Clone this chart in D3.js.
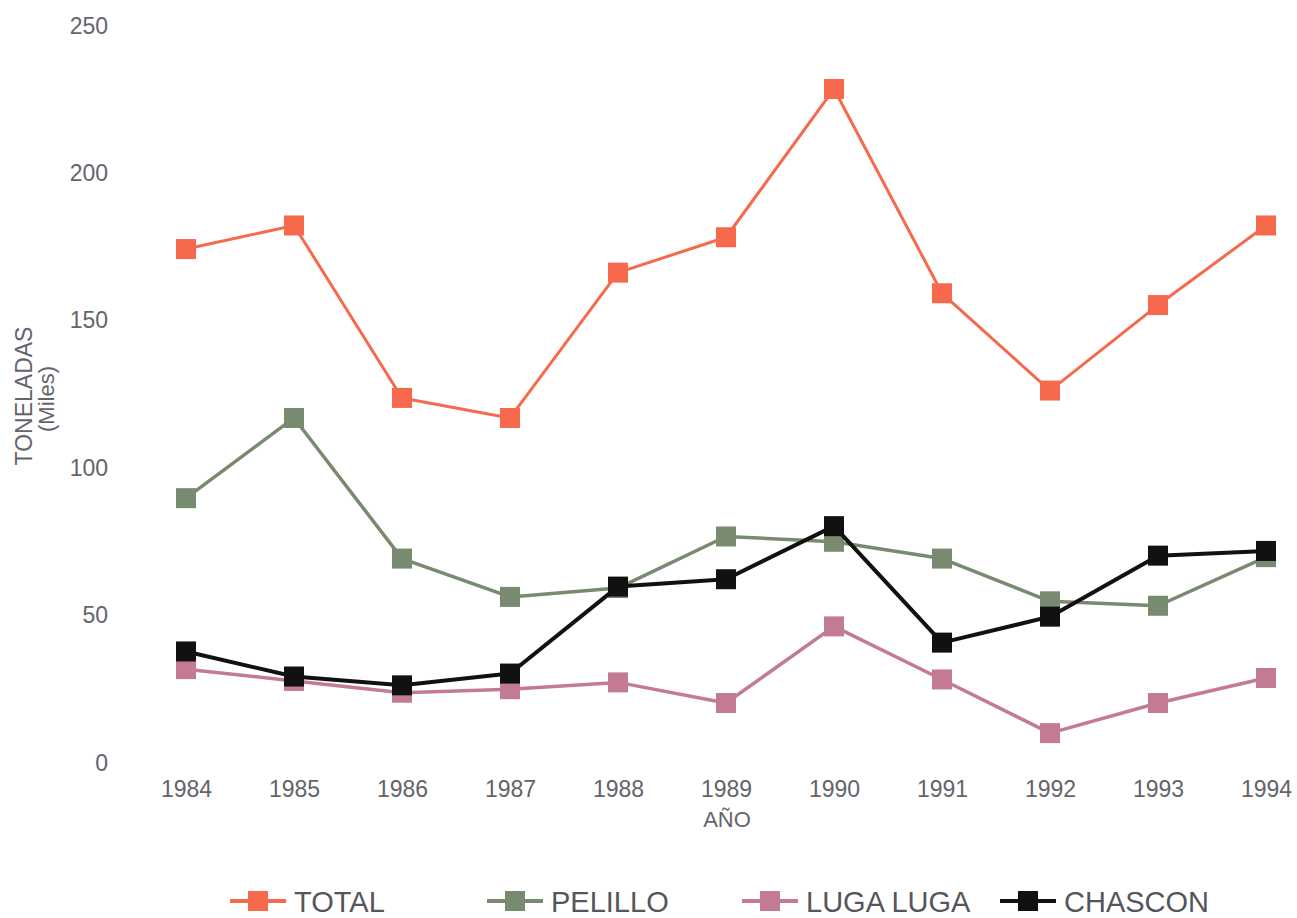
<!DOCTYPE html>
<html>
<head>
<meta charset="utf-8">
<script src="https://cdn.jsdelivr.net/npm/d3@7/dist/d3.min.js"></script>
<style>
  html, body { margin: 0; padding: 0; background: #fff; }
  svg { display: block; font-family: "Liberation Sans", Arial, sans-serif; }
</style>
</head>
<body>
<svg id="chart" width="1297" height="918"></svg>
<script>
const years = ["1984","1985","1986","1987","1988","1989","1990","1991","1992","1993","1994"];
const total    = [174, 182, 123.5, 116.7, 166, 178, 228.3, 159, 126, 155, 182];
const pelillo  = [89.5, 116.7, 69, 56, 59, 76.5, 74.7, 69, 54.5, 53, 69.5];
const lugaLuga = [31.5, 27.5, 23.5, 24.7, 27, 20, 46, 28, 9.8, 20, 28.5];
const chascon  = [37.5, 29, 26, 30, 59.5, 62, 80, 40.5, 49.3, 70, 71.6];
const yTicks = [0, 50, 100, 150, 200, 250];

const seriesNames = ["TOTAL", "PELILLO", "LUGA LUGA", "CHASCON"];
const seriesValues = [total, pelillo, lugaLuga, chascon];
const seriesColors = ["#f7694c", "#788a6f", "#c27b93", "#111111"];
const seriesWidths = [3, 3.5, 3.5, 4];

const svg = d3.select("#chart");

const x = d3.scalePoint().domain(years).range([186, 1266]);
const y = d3.scaleLinear().domain([0, 250]).range([762, 25]);

// Y axis (labels only)
const yAxis = d3.axisLeft(y).tickValues(yTicks).tickSize(0).tickPadding(0);
const yg = svg.append("g").attr("transform", "translate(108,0)").call(yAxis);
yg.select(".domain").remove();
yg.selectAll("text")
  .attr("font-size", 23)
  .attr("fill", "#64646b")
  .attr("font-family", "'Liberation Sans', Arial, sans-serif")
  .attr("dy", "0.35em");

// X axis (labels only)
const xAxis = d3.axisBottom(x).tickSize(0).tickPadding(0);
const xg = svg.append("g").attr("transform", "translate(0,781)").call(xAxis);
xg.select(".domain").remove();
xg.selectAll("text")
  .attr("font-size", 23)
  .attr("fill", "#64646b")
  .attr("font-family", "'Liberation Sans', Arial, sans-serif")
  .attr("dy", "0.71em");

// Axis titles
svg.append("text")
  .attr("x", x("1989") + 1).attr("y", 827)
  .attr("text-anchor", "middle")
  .attr("font-size", 22).attr("fill", "#64646b")
  .text("AÑO");

svg.append("text")
  .attr("transform", "translate(32,396) rotate(-90)")
  .attr("text-anchor", "middle")
  .attr("font-size", 23).attr("fill", "#64646b")
  .text("TONELADAS");
svg.append("text")
  .attr("transform", "translate(54,399) rotate(-90)")
  .attr("text-anchor", "middle")
  .attr("font-size", 22).attr("fill", "#64646b")
  .text("(Miles)");

// Series
const line = d3.line().x((d, i) => x(years[i])).y(d => y(d));
const msize = 20;

seriesValues.forEach((vals, si) => {
  const g = svg.append("g");
  g.append("path")
    .datum(vals)
    .attr("d", line)
    .attr("fill", "none")
    .attr("stroke", seriesColors[si])
    .attr("stroke-width", seriesWidths[si])
    .attr("stroke-linejoin", "round");
  g.selectAll("rect")
    .data(vals)
    .join("rect")
    .attr("x", (d, i) => x(years[i]) - msize / 2)
    .attr("y", d => y(d) - msize / 2)
    .attr("width", msize)
    .attr("height", msize)
    .attr("fill", seriesColors[si]);
});

// Legend
const legendX = [230, 487, 742, 1000];
const legendY = 901;
seriesNames.forEach((name, si) => {
  const lx = legendX[si];
  const g = svg.append("g");
  g.append("line")
    .attr("x1", lx).attr("x2", lx + 56)
    .attr("y1", legendY).attr("y2", legendY)
    .attr("stroke", seriesColors[si])
    .attr("stroke-width", 4);
  g.append("rect")
    .attr("x", lx + 28 - 10).attr("y", legendY - 10)
    .attr("width", 20).attr("height", 20)
    .attr("fill", seriesColors[si]);
  g.append("text")
    .attr("x", lx + 64).attr("y", legendY + 11)
    .attr("font-size", 29).attr("fill", "#55555c")
    .text(name);
});
</script>
</body>
</html>
